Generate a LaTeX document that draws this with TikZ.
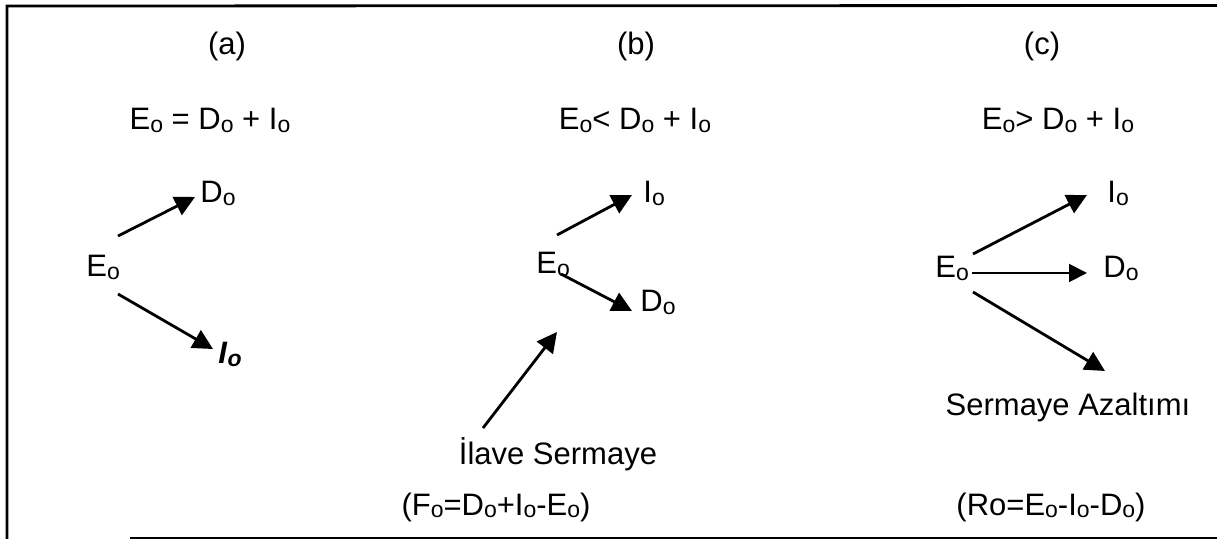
\documentclass[tikz,border=0pt]{standalone}
\usepackage{fontspec}
\setmainfont{Liberation Sans}
\usetikzlibrary{arrows.meta}
\newcommand{\lowo}{{\fontsize{11.5}{11.5}\selectfont\raisebox{-1.2pt}{o}}}
\newcommand{\lowob}{{\fontsize{11.5}{11.5}\selectfont\raisebox{-1.2pt}{\textbf{\textit{o}}}}}
\tikzset{
  txt/.style={inner sep=0pt, font=\fontsize{15.5}{18}\selectfont},
  arr/.style={line width=1.4pt, -{Triangle[length=10pt,width=10pt]}},
  arrthin/.style={line width=1pt, -{Triangle[length=9pt,width=9pt]}},
  frameline/.style={line width=1.4pt, line cap=rect}
}
\begin{document}
\begin{tikzpicture}[x=0.5pt,y=-0.5pt]
\useasboundingbox (0,0) rectangle (1217,539);
\fill[white] (0,0) rectangle (1217,539);
% frame
\draw[frameline] (1217,5.5) -- (7,6) -- (7,539);
\draw[line width=0.7pt] (130,538) -- (1217,538);

% ---------- panel (a)
\node[txt] (ta) at (227,46) {(a)};
\node[txt, anchor=base] (eqa) at (210,130) {E\lowo{} = D\lowo{} + I\lowo};
\node[txt, anchor=base west] (Da) at (200,203) {D\lowo};
\node[txt, anchor=base west] (Ea) at (86,277) {E\lowo};
\node[txt, anchor=base west] (Ia) at (218,364) {\textbf{\textit{I}}\lowob};
\coordinate (a1s) at (118,236); \coordinate (a1e) at (195,197);
\coordinate (a2s) at (118,294); \coordinate (a2e) at (213,349);
\draw[arr] (a1s) -- (a1e);
\draw[arr] (a2s) -- (a2e);

% ---------- panel (b)
\node[txt] (tb) at (636,46) {(b)};
\node[txt, anchor=base] (eqb) at (635,130) {E\lowo< D\lowo{} + I\lowo};
\node[txt, anchor=base west] (Ib) at (643,203) {I\lowo};
\node[txt, anchor=base west] (Eb) at (536,274) {E\lowo};
\node[txt, anchor=base west] (Db) at (640,312) {D\lowo};
\node[txt, anchor=base] (Ilave) at (558,465) {İlave Sermaye};
\node[txt] (Fb) at (496,507) {(F\lowo=D\lowo+I\lowo-E\lowo)};
\coordinate (b1s) at (557,235); \coordinate (b1e) at (632,195);
\coordinate (b2s) at (561,274); \coordinate (b2e) at (632,311);
\coordinate (b3s) at (483,428); \coordinate (b3e) at (557,332);
\draw[arr] (b1s) -- (b1e);
\draw[arr] (b2s) -- (b2e);
\draw[arr] (b3s) -- (b3e);

% ---------- panel (c)
\node[txt] (tc) at (1042,46) {(c)};
\node[txt, anchor=base] (eqc) at (1058,130) {E\lowo> D\lowo{} + I\lowo};
\node[txt, anchor=base west] (Ic) at (1107,203) {I\lowo};
\node[txt, anchor=base west] (Ec) at (935,278) {E\lowo};
\node[txt, anchor=base west] (Dc) at (1103,278) {D\lowo};
\node[txt, anchor=base] (Sa) at (1068,416) {Sermaye Azaltımı};
\node[txt] (Rc) at (1051,507) {(Ro=E\lowo-I\lowo-D\lowo)};
\coordinate (c1s) at (973,254); \coordinate (c1e) at (1087,195);
\coordinate (c2s) at (972,273); \coordinate (c2e) at (1087,273);
\coordinate (c3s) at (973,292); \coordinate (c3e) at (1105,371);
\draw[arr] (c1s) -- (c1e);
\draw[arrthin] (c2s) -- (c2e);
\draw[arr] (c3s) -- (c3e);
\end{tikzpicture}
\end{document}
